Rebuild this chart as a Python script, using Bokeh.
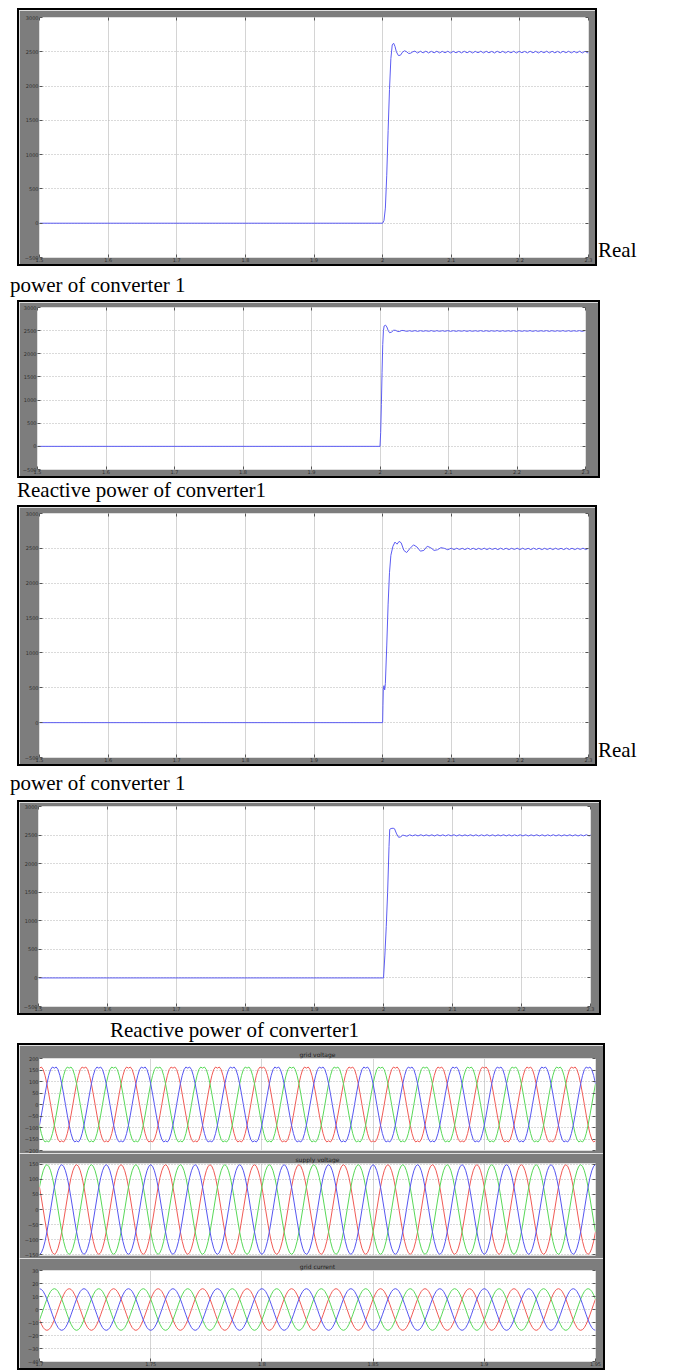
import numpy as np
from bokeh.plotting import figure
from bokeh.models import FixedTicker, Range1d, LinearAxis, Div, Spacer
from bokeh.layouts import column, row
from bokeh.embed import file_html
from bokeh.resources import INLINE

# ---------------- data ----------------
power_x_ticks = [1.5, 1.6, 1.7, 1.8, 1.9, 2.0, 2.1, 2.2, 2.3]
power_x_labels = ["1.5", "1.6", "1.7", "1.8", "1.9", "2", "2.1", "2.2", "2.3"]
power_y_ticks = [-500, 0, 500, 1000, 1500, 2000, 2500, 3000]

# Panel 1 : Real power of converter 1
p1_t = [1.5, 2.0, 2.002, 2.004, 2.006, 2.008, 2.010, 2.012, 2.014, 2.016, 2.018,
        2.020, 2.023, 2.026, 2.029, 2.032, 2.035, 2.038, 2.041, 2.044]
p1_v = [0, 0, 40, 220, 700, 1350, 1950, 2400, 2600, 2625, 2580,
        2500, 2445, 2450, 2495, 2515, 2500, 2475, 2480, 2500]
p1_ripple_start = 2.047
p1_ripple = [2510, 2482, 2508, 2484, 2509, 2483, 2507, 2485, 2508, 2484, 2506, 2486, 2508, 2483, 2507, 2485,
             2506, 2484, 2508, 2485, 2507, 2483, 2506, 2486, 2508, 2484, 2507, 2485, 2506, 2483, 2508, 2486,
             2507, 2484, 2506, 2485, 2508, 2483, 2507, 2486, 2506, 2484, 2508, 2485, 2507, 2483, 2506, 2486,
             2508, 2484, 2507, 2485, 2506, 2483, 2508, 2486, 2507, 2484, 2506, 2485, 2508, 2483, 2507, 2485]

# Panel 2 : Reactive power of converter 1
p2_t = [1.5, 2.0, 2.001, 2.002, 2.003, 2.004, 2.005, 2.006, 2.008, 2.010, 2.012,
        2.014, 2.017, 2.020, 2.023, 2.026, 2.029, 2.032]
p2_v = [0, 0, 300, 900, 1600, 2200, 2500, 2600, 2620, 2580, 2500,
        2455, 2470, 2510, 2505, 2480, 2485, 2505]
p2_ripple_start = 2.035
p2_ripple = [2500, 2484, 2499, 2485, 2501, 2484, 2500, 2486, 2499, 2485, 2501, 2484, 2500, 2485, 2499, 2486,
             2501, 2484, 2500, 2485, 2499, 2486, 2501, 2484, 2500, 2485, 2499, 2486, 2501, 2484, 2500, 2485,
             2499, 2486, 2501, 2484, 2500, 2485, 2499, 2486, 2501, 2484, 2500, 2485, 2499, 2486, 2501, 2484,
             2500, 2485, 2499, 2486, 2501, 2484, 2500, 2485, 2499, 2486, 2501, 2484, 2500, 2485, 2499, 2486,
             2501, 2484, 2500]

# Panel 3 : Real power of converter 1 (second case)
p3_t = [1.5, 2.0, 2.0005, 2.001, 2.002, 2.003, 2.004, 2.006, 2.008, 2.010, 2.012, 2.015,
        2.018, 2.021, 2.024, 2.027, 2.031, 2.035, 2.040, 2.045, 2.050, 2.055, 2.060,
        2.065, 2.070, 2.075, 2.080, 2.085, 2.090, 2.095]
p3_v = [0, 0, 250, 480, 530, 470, 560, 1100, 1700, 2150, 2400, 2530,
        2590, 2560, 2600, 2580, 2470, 2440, 2500, 2550, 2520, 2460, 2470,
        2530, 2510, 2470, 2480, 2510, 2500, 2480]
p3_ripple_start = 2.1
p3_ripple = [2503, 2482, 2502, 2483, 2501, 2482, 2503, 2484, 2502, 2482, 2501, 2483, 2503, 2482, 2502, 2484,
             2501, 2482, 2503, 2483, 2502, 2482, 2501, 2484, 2503, 2482, 2502, 2483, 2501, 2482, 2503, 2484,
             2502, 2482, 2501, 2483, 2503, 2482, 2502, 2484, 2501, 2482, 2503, 2483, 2502, 2482, 2501, 2484,
             2503, 2482, 2502]

# Panel 4 : Reactive power of converter 1 (second case)
p4_t = [1.5, 2.0, 2.002, 2.004, 2.006, 2.008, 2.009, 2.011, 2.014, 2.016, 2.019,
        2.022, 2.025, 2.028, 2.031, 2.034]
p4_v = [0, 0, 400, 900, 1500, 2300, 2600, 2615, 2620, 2610, 2520,
        2460, 2470, 2500, 2490, 2480]
p4_ripple_start = 2.038
p4_ripple = [2505, 2486, 2504, 2485, 2506, 2486, 2504, 2485, 2505, 2484, 2506, 2486, 2504, 2485, 2505, 2486,
             2506, 2484, 2505, 2485, 2504, 2486, 2506, 2485, 2505, 2484, 2504, 2486, 2506, 2485, 2505, 2484,
             2504, 2486, 2506, 2485, 2505, 2484, 2504, 2486, 2506, 2485, 2505, 2484, 2504, 2486, 2506, 2485,
             2505, 2484, 2504, 2486, 2506, 2485, 2505, 2484, 2504, 2486, 2506, 2485, 2505, 2484, 2504, 2486,
             2506, 2485, 2505]
ripple_step = 0.004

# Three-phase scope: one 20 ms cycle of each waveform (24 samples)
wave_x_ticks = [1.7, 1.75, 1.8, 1.85, 1.9, 1.95]
wave_x_labels = ["1.7", "1.75", "1.8", "1.85", "1.9", "1.95"]
grid_voltage_ticks = [-200, -150, -100, -50, 0, 50, 100, 150, 200]
supply_voltage_ticks = [-150, -100, -50, 0, 50, 100, 150]
grid_current_ticks = [-40, -30, -20, -10, 0, 10, 20, 30]

grid_voltage_cycle = [158, 163, 152, 126, 90, 46, 0, -46, -90, -126, -152, -163,
                      -158, -163, -152, -126, -90, -46, 0, 46, 90, 126, 152, 163]
supply_voltage_cycle = [148, 143, 128, 105, 74, 38, 0, -38, -74, -105, -128, -143,
                        -148, -143, -128, -105, -74, -38, 0, 38, 74, 105, 128, 143]
grid_current_cycle = [16, 15.5, 13.9, 11.3, 8, 4.1, 0, -4.1, -8, -11.3, -13.9, -15.5,
                      -16, -15.5, -13.9, -11.3, -8, -4.1, 0, 4.1, 8, 11.3, 13.9, 15.5]
# phase offsets in samples (of 24 per cycle) for the three traces
grid_voltage_shift = {"red": 0, "blue": 8, "green": 16}
supply_voltage_shift = {"red": 20, "green": 4, "blue": 12}
grid_current_shift = {"blue": 0, "green": 8, "red": 16}
wave_t0 = 1.7
wave_period = 0.02
wave_cycles = 12.5

# ---------------- styling helpers ----------------
GRAY = "#7d7d7d"
LINE_BLUE = "#5c5cf2"
PHASE_COLORS = {"red": "#f05a55", "green": "#58d858", "blue": "#5656f0"}
SERIF = "Liberation Serif"
FRAME = {"border": "2px solid #000"}


def style_axis(ax, ticks, labels=True):
    ax.axis_line_color = None
    ax.major_tick_line_color = "#555555"
    ax.major_tick_in = 3
    ax.major_tick_out = 0
    ax.minor_tick_line_color = None
    ax.major_label_text_font = "DejaVu Sans"
    if labels:
        ax.major_label_text_font_size = "5px"
        ax.major_label_text_color = "#303030"
        ax.major_label_standoff = 1
    else:
        ax.major_label_text_font_size = "1px"
        ax.major_label_overrides = {t: "" for t in ticks}
        ax.major_label_standoff = 0


def base_fig(w, h, xr, yr, bl, br, bt, bb, xticks, xlabels, yticks,
             show_xlabels=True, top_axis=True, title=None):
    kw = dict(width=w, height=h, x_range=Range1d(*xr), y_range=Range1d(*yr),
              output_backend="svg", toolbar_location=None,
              min_border_left=bl, min_border_right=br, min_border_top=bt, min_border_bottom=bb,
              background_fill_color="white", border_fill_color=GRAY, outline_line_color=None)
    if title is not None:
        kw["title"] = title
    p = figure(**kw)
    if title is not None:
        p.title.text_font_size = "6px"
        p.title.text_font = "DejaVu Sans"
        p.title.text_font_style = "normal"
        p.title.text_color = "#202020"
        p.title.align = "center"
        p.title.standoff = 1
        p.title.offset = 0
    xt = FixedTicker(ticks=xticks)
    yt = FixedTicker(ticks=yticks)
    p.xaxis.ticker = xt
    p.yaxis.ticker = yt
    style_axis(p.xaxis[0], xticks, labels=show_xlabels)
    if show_xlabels:
        p.xaxis.major_label_overrides = {t: l for t, l in zip(xticks, xlabels)}
        p.xaxis.major_label_standoff = 0
    else:
        p.xaxis.visible = False
    style_axis(p.yaxis[0], yticks, labels=True)
    ra = LinearAxis(ticker=yt)
    style_axis(ra, yticks, labels=False)
    p.add_layout(ra, "right")
    if top_axis:
        ta = LinearAxis(ticker=xt)
        style_axis(ta, xticks, labels=False)
        p.add_layout(ta, "above")
    p.xgrid.ticker = xt
    p.ygrid.ticker = yt
    p.xgrid.grid_line_color = "#d4d4d4"
    p.xgrid.grid_line_width = 1
    p.ygrid.grid_line_color = "#b4b4b4"
    p.ygrid.grid_line_dash = "1 2"
    p.ygrid.grid_line_width = 1
    return p


def power_panel(w, h, bl, br, bt, bb, t, v, r_start, r_vals):
    # w, h: outer size incl. 2px black frame; bl..bb: gray margins inside the frame
    p = base_fig(w - 4, h - 4, (1.5, 2.3), (-500, 3000), bl, br, bt, bb,
                 power_x_ticks, power_x_labels, power_y_ticks)
    rt = list(r_start + ripple_step * np.arange(len(r_vals)))
    xs = list(t) + rt + [2.3]
    ys = list(v) + list(r_vals) + [r_vals[-1]]
    p.line(xs, ys, line_color=LINE_BLUE, line_width=1)
    return column(p, spacing=0, styles=FRAME)


def text_div(text, w, h, top, left):
    html = (f'<div style="font-family:\'{SERIF}\';font-size:21px;line-height:21px;'
            f'padding-top:{top}px;padding-left:{left}px;white-space:nowrap;color:#000;">{text}</div>')
    return Div(text=html, width=w, height=h, margin=(0, 0, 0, 0))


# ---------------- panels 1-4 ----------------
f1 = power_panel(580, 258, 20, 7, 7, 7, p1_t, p1_v, p1_ripple_start, p1_ripple)
f2 = power_panel(583, 178, 17, 13, 5, 7, p2_t, p2_v, p2_ripple_start, p2_ripple)
f3 = power_panel(580, 261, 20, 7, 6, 7, p3_t, p3_v, p3_ripple_start, p3_ripple)
f4 = power_panel(584, 215, 19, 9, 4, 7, p4_t, p4_v, p4_ripple_start, p4_ripple)

# ---------------- panel 5 : three-phase scope ----------------
n = int(round(wave_cycles * 24))
k = np.arange(n + 1)
wave_t = wave_t0 + k * (wave_period / 24)


def wave_fig(h, yr, yticks, bt, bb, cycle, shifts, title, show_x):
    p = base_fig(584, h, (1.7, 1.95), yr, 20, 8, bt, bb, wave_x_ticks, wave_x_labels, yticks,
                 show_xlabels=show_x, top_axis=False, title=title)
    cyc = np.array(cycle, dtype=float)
    for name in ["red", "green", "blue"]:
        vals = cyc[(k - shifts[name]) % 24]
        p.line(wave_t, vals, line_color=PHASE_COLORS[name], line_width=1)
    return p


f5a = wave_fig(108, (-200, 200), grid_voltage_ticks, 13, 3, grid_voltage_cycle,
               grid_voltage_shift, "grid voltage", False)
f5b = wave_fig(105, (-152, 152), supply_voltage_ticks, 10, 3, supply_voltage_cycle,
               supply_voltage_shift, "supply voltage", False)
f5c = wave_fig(110, (-40, 30), grid_current_ticks, 12, 7, grid_current_cycle,
               grid_current_shift, "grid current", True)
scope = column(f5a, f5b, f5c, spacing=0, styles=FRAME)

real1 = text_div("Real", 80, 258, 232, 1)
real3 = text_div("Real", 80, 261, 235, 1)

layout = column(
    Spacer(width=10, height=8),
    row(Spacer(width=17, height=258), f1, real1, spacing=0),
    text_div("power of converter 1", 677, 34, 9, 10),
    row(Spacer(width=17, height=178), f2, spacing=0),
    text_div("Reactive power of converter1", 677, 27, 2, 17),
    row(Spacer(width=17, height=261), f3, real3, spacing=0),
    text_div("power of converter 1", 677, 34, 7, 10),
    row(Spacer(width=17, height=215), f4, spacing=0),
    text_div("Reactive power of converter1", 677, 28, 5, 110),
    row(Spacer(width=17, height=327), scope, spacing=0),
    spacing=0,
)

open("out.html", "w").write(file_html(layout, INLINE))
